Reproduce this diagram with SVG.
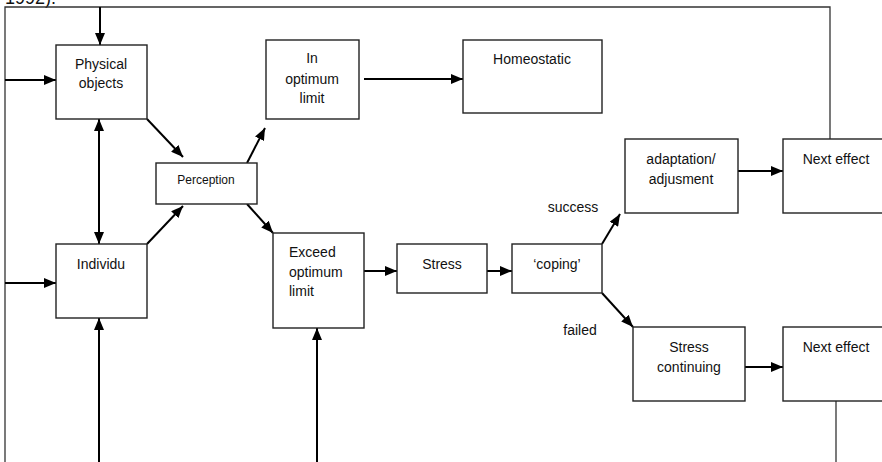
<svg xmlns="http://www.w3.org/2000/svg" width="882" height="462" viewBox="0 0 882 462">
<style>
.box{fill:#fff;stroke:#222;stroke-width:1.4}
.t{font-family:"Liberation Sans",Arial,sans-serif;font-size:14px;fill:#111;text-anchor:middle}
.s{font-size:12px}
.l{text-anchor:start}
.ar{stroke:#000;stroke-width:2;fill:none}
.fr{stroke:#333;stroke-width:1.3;fill:none}
</style>
<defs>
<marker id="ah" markerUnits="userSpaceOnUse" markerWidth="12" markerHeight="10" refX="12" refY="5" orient="auto-start-reverse">
<path d="M0,0 L12,5 L0,10 z" fill="#000"/>
</marker>
</defs>
<text class="t l" x="5" y="4" style="font-size:18px">1992).</text>
<g id="connectors">
<polyline class="fr" points="5,462 5,7 830,7 830,139"/>
<line class="fr" x1="836" y1="401" x2="836" y2="462"/>
<line class="ar" x1="100" y1="7" x2="100" y2="45" marker-end="url(#ah)"/>
<line class="ar" x1="5" y1="80" x2="56" y2="80" marker-end="url(#ah)"/>
<line class="ar" x1="99" y1="119" x2="99" y2="244" marker-start="url(#ah)" marker-end="url(#ah)"/>
<line class="ar" x1="5" y1="283" x2="56" y2="283" marker-end="url(#ah)"/>
<line class="ar" x1="99" y1="462" x2="99" y2="318" marker-end="url(#ah)"/>
<line class="ar" x1="147" y1="119" x2="183" y2="157" marker-end="url(#ah)"/>
<line class="ar" x1="147" y1="244" x2="183" y2="206" marker-end="url(#ah)"/>
<line class="ar" x1="247" y1="163" x2="265" y2="128" marker-end="url(#ah)"/>
<line class="ar" x1="364" y1="79" x2="463" y2="79" marker-end="url(#ah)"/>
<line class="ar" x1="247" y1="204" x2="273" y2="233" marker-end="url(#ah)"/>
<line class="ar" x1="317" y1="462" x2="317" y2="328" marker-end="url(#ah)"/>
<line class="ar" x1="364" y1="271" x2="397" y2="271" marker-end="url(#ah)"/>
<line class="ar" x1="487" y1="271" x2="512" y2="271" marker-end="url(#ah)"/>
<line class="ar" x1="602" y1="244" x2="620" y2="214" marker-end="url(#ah)"/>
<line class="ar" x1="602" y1="293" x2="633" y2="327" marker-end="url(#ah)"/>
<line class="ar" x1="738" y1="171" x2="783" y2="171" marker-end="url(#ah)"/>
<line class="ar" x1="745" y1="367" x2="783" y2="367" marker-end="url(#ah)"/>
</g>
<g id="physical">
<rect class="box" x="56" y="45" width="91" height="74"/>
<text class="t" x="101" y="69">Physical</text>
<text class="t" x="101" y="88">objects</text>
</g>
<g id="individu">
<rect class="box" x="56" y="244" width="91" height="74"/>
<text class="t" x="101" y="269">Individu</text>
</g>
<g id="perception">
<rect class="box" x="156" y="163" width="101" height="41"/>
<text class="t s" x="206" y="184">Perception</text>
</g>
<g id="inoptimum">
<rect class="box" x="266" y="40" width="93" height="79"/>
<text class="t" x="312" y="63">In</text>
<text class="t" x="312" y="84">optimum</text>
<text class="t" x="312" y="103">limit</text>
</g>
<g id="homeostatic">
<rect class="box" x="463" y="40" width="139" height="73"/>
<text class="t" x="532" y="64">Homeostatic</text>
</g>
<g id="exceed">
<rect class="box" x="273" y="233" width="91" height="95"/>
<text class="t l" x="289" y="257">Exceed</text>
<text class="t l" x="289" y="277">optimum</text>
<text class="t l" x="289" y="296">limit</text>
</g>
<g id="stress">
<rect class="box" x="397" y="244" width="90" height="49"/>
<text class="t" x="442" y="269">Stress</text>
</g>
<g id="coping">
<rect class="box" x="512" y="244" width="90" height="49"/>
<text class="t" x="557" y="269">‘coping’</text>
</g>
<g id="labels">
<text class="t" x="573" y="212">success</text>
<text class="t" x="580" y="335">failed</text>
</g>
<g id="adaptation">
<rect class="box" x="625" y="139" width="113" height="74"/>
<text class="t" x="681" y="164">adaptation/</text>
<text class="t" x="681" y="184">adjusment</text>
</g>
<g id="nexteffect1">
<rect class="box" x="783" y="139" width="110" height="74"/>
<text class="t" x="836" y="164">Next effect</text>
</g>
<g id="stresscont">
<rect class="box" x="633" y="327" width="112" height="74"/>
<text class="t" x="689" y="352">Stress</text>
<text class="t" x="689" y="372">continuing</text>
</g>
<g id="nexteffect2">
<rect class="box" x="783" y="327" width="110" height="74"/>
<text class="t" x="836" y="352">Next effect</text>
</g>
</svg>
